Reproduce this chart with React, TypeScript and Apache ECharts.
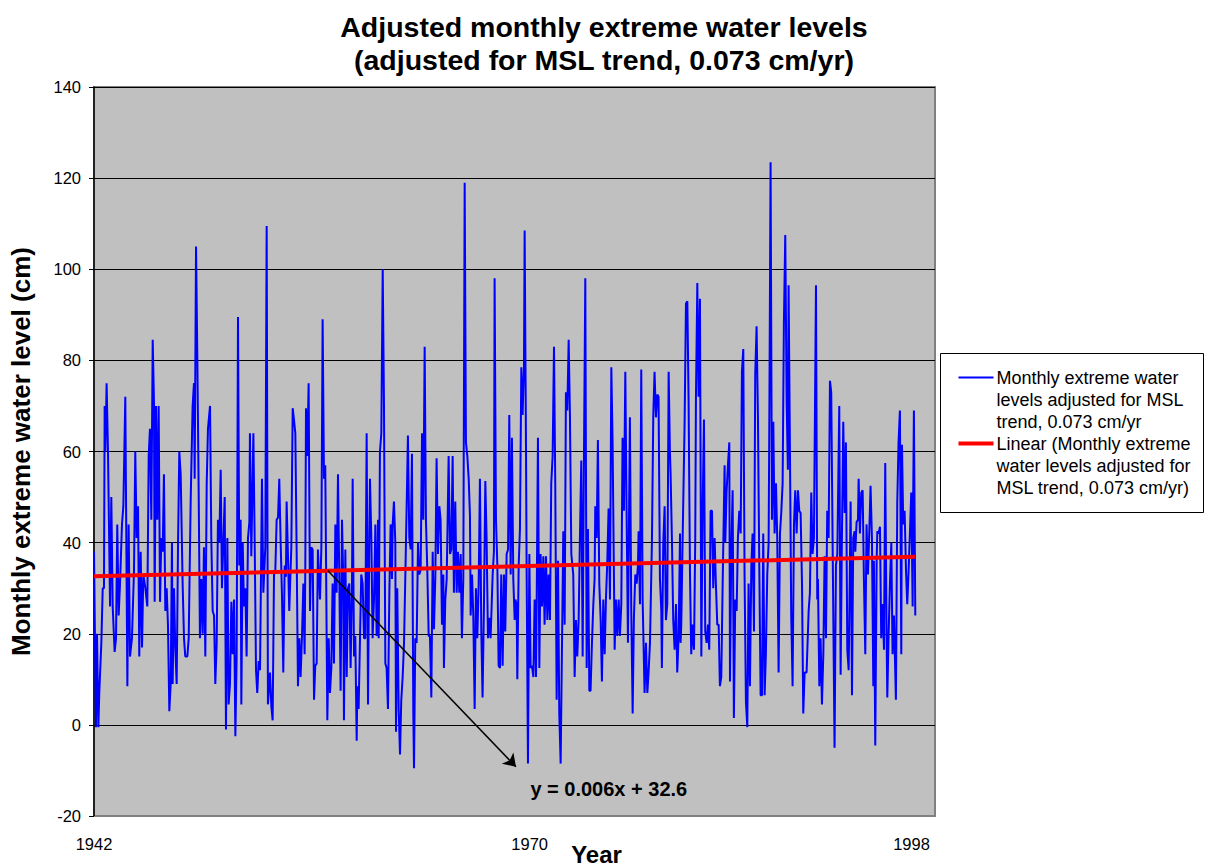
import React, { useEffect, useRef } from 'react';
import * as echarts from 'echarts';

// ---- Chart text ----
const titleText = 'Adjusted monthly extreme water levels\n(adjusted for MSL trend, 0.073 cm/yr)';
const levelSeriesName = 'Monthly extreme water levels adjusted for MSL trend, 0.073 cm/yr';
const trendSeriesName = 'Linear (Monthly extreme water levels adjusted for MSL trend, 0.073 cm/yr)';
const levelLegendText = 'Monthly extreme water\nlevels adjusted for MSL\ntrend, 0.073 cm/yr';
const trendLegendText = 'Linear (Monthly extreme\nwater levels adjusted for\nMSL trend, 0.073 cm/yr)';
const yAxisTitle = 'Monthly extreme water level (cm)';
const xAxisTitle = 'Year';

// ---- Axes ----
const levelMin = -20;
const levelMax = 140;
const levelStep = 20;
const recordMin = 1;
const recordMax = 734.5;
const yearTickRecords = [1, 381, 714];
const yearTickLabels = ['1942', '1970', '1998'];

// ---- Linear trend fitted on record number ----
const trendSlope = 0.006;
const trendIntercept = 32.6;
const trendFirstRecord = 1;
const trendLastRecord = 717;

// ---- Callout for the trend equation (record number, cm) ----
const calloutFromRecord = 205;
const calloutTip = [369, -9.2];
const equationAnchor = [450, -14];

// ---- Monthly extreme water levels: [record number, level in cm] ----
const levels1942to1950: [number, number][] = [
  [1, 38], [2.7, -0.5], [3.6, 20], [4.8, -0.5], [5.6, 7], [7.4, 18], [8.6, 30], [9.7, 30], [10.3, 70], [10.9, 60],
  [12, 75], [13.2, 60], [15, 26], [16.1, 50], [17.3, 26], [19, 16], [20.2, 19], [21.3, 44], [22.5, 24], [23.7, 31],
  [25.4, 44], [26.6, 48], [28.3, 72], [28.9, 72], [30.1, 8.5], [31.2, 44], [32.4, 15], [34.1, 19], [35.9, 34], [37, 60],
  [38.2, 41], [39.4, 48], [40.5, 15], [41.7, 38], [42.9, 17], [44, 33], [45.8, 30], [47.5, 26], [48.7, 59], [49.8, 65],
  [51, 45], [52.2, 84.5], [53.3, 71], [53.9, 27], [55.1, 70], [56.2, 45], [57.4, 70], [58.6, 27], [59.7, 41], [60.9, 38],
  [62, 55], [63.2, 25], [64.4, 30], [65.5, 22], [66.7, 3], [67.9, 9], [69, 40], [69.6, 9], [70.8, 30], [71.9, 17],
  [73.1, 9], [74.3, 40], [75.4, 60], [76.6, 55], [78.3, 31], [79.5, 19], [80.6, 15], [82.4, 15], [83.6, 19], [85.3, 49],
  [87, 70], [88.2, 75], [88.8, 54], [90, 105], [91.1, 81], [92.3, 51], [93.4, 19], [94.6, 32], [95.8, 20], [96.9, 39],
  [98.1, 15], [99.3, 53],
];

const levels1950to1958: [number, number][] = [
  [100.4, 65], [102.2, 70], [103.3, 41], [104.5, 25], [105.7, 24], [106.8, 9], [108, 18], [109.1, 45], [110.3, 40], [111.5, 56],
  [112.6, 30], [113.8, 40], [115, 50], [116.1, -1], [117.3, 41], [118.4, 4.5], [119.6, 9], [120.8, 27], [121.9, 15.5], [123.1, 27.5],
  [124.3, -2.5], [125.4, 15], [126.6, 89.5], [127.7, 35], [128.9, 45], [129.5, 4.5], [130.7, 40], [131.8, 26], [133, 30], [134.1, 15],
  [135.3, 41], [136.5, 44.5], [137, 64], [138.2, 37], [140, 64], [141.1, 41], [142.3, 12], [143.4, 7], [144.6, 14], [145.8, 12],
  [147.5, 54], [148.7, 29], [150.4, 39], [151.6, 109.5], [152.7, 4.5], [154.5, 11.5], [155.7, 4], [156.8, 1], [158, 33], [159.1, 33.5],
  [160.3, 45], [161.5, 45.5], [162.6, 54], [163.8, 40], [164.9, 29], [166.1, 11.5], [167.3, 35], [168.4, 32.5], [169, 49], [170.2, 37],
  [171.3, 25], [173.1, 39], [174.3, 69.5], [175.4, 67], [176.6, 64], [177.7, 39], [178.9, 8.5], [180.1, 19], [181.2, 10.5], [182.4, 19.5],
  [183.6, 31], [184.7, 15.5], [185.3, 35], [185.9, 69.5], [187, 59], [188.2, 75], [189.4, 25], [190.5, 39], [191.7, 38.5], [192.9, 5.5],
  [194, 13], [195.2, 13.5], [196.3, 38.5], [198.1, 27.5], [199.3, 39], [200.4, 89], [201.6, 54], [202.7, 57],
];

const levels1958to1966: [number, number][] = [
  [204.5, 1], [205.7, 19], [206.8, 7], [208, 12.5], [209.1, 31], [210.3, 13.5], [211.5, 44], [212.6, 29], [213.8, 55], [215, 31],
  [216.1, 7.5], [217.3, 45], [218.4, 32], [219, 1], [220.2, 38.5], [221.4, 10.5], [222.5, 30], [223.7, 31], [224.8, 12.5], [226, 30],
  [226.6, 54], [227.8, 15], [228.9, 19.5], [230.1, -3.5], [230.7, 8.5], [231.8, 3.5], [233, 19], [234.1, 33], [235.3, 31], [236.5, 19],
  [237.6, 19], [238.8, 64], [240, 4.5], [241.1, 41], [241.7, 54], [242.9, 41], [244, 19], [245.2, 27.5], [246.4, 44], [247.5, 19.5],
  [248.7, 45], [249.3, 19], [250.4, 60], [251.6, 64], [252.8, 100], [253.9, 71], [255.1, 13.5], [256.2, 12.5], [257.4, 3.5], [258.6, 29],
  [259.7, 44], [260.9, 32], [261.5, 44], [262.6, 49], [263.8, 40], [264.4, -1.5], [265.5, 30], [266.7, 3.5], [267.9, -6.5], [269, 5.5],
  [270.2, 10.5], [271.4, 18], [273.1, 40], [274.8, 63.5], [276, 41], [277.2, 38.5], [278.3, 59.5], [279.5, 2.5], [280.1, -9.5], [281.2, 19],
  [282.4, 18], [283.6, 40], [284.7, 33], [285.9, 34], [287.1, 64], [288.2, 45], [289.4, 83], [290.5, 45], [291.7, 34], [292.9, 19.5],
  [294, 19.5], [295.2, 6], [296.4, 38], [297.5, 21], [298.7, 32.5], [299.8, 58.5], [301, 37.5], [302.2, 48], [303.3, 45], [304.5, 22],
  [305.7, 33],
];

const levels1966to1974: [number, number][] = [
  [306.2, 12.5], [307.4, 27.5], [308.6, 32], [310.3, 59], [311.5, 37.5], [312.6, 38.5], [313.8, 59], [314.9, 29], [316.1, 49], [317.3, 29],
  [318.4, 38], [319.6, 29], [320.8, 37.5], [321.9, 19], [323.1, 32], [324.3, 119], [325.4, 62], [326.6, 59], [327.8, 54], [328.9, 46],
  [329.5, 24], [330.7, 33], [331.8, 24], [333, 3.5], [334.1, 30], [335.3, 19], [336.5, 31], [337.6, 54], [338.8, 20.5], [339.9, 6],
  [341.1, 26], [342.3, 53.5], [343.4, 41], [344.6, 19], [345.8, 23.5], [346.9, 19], [348.7, 33], [349.8, 38], [350.4, 98], [351.6, 45],
  [352.8, 35], [353.9, 13], [355.1, 12.5], [356.2, 33], [357.4, 13], [358.6, 33], [359.7, 20.5], [360.9, 37.5], [362.1, 38.5], [363.2, 68],
  [364.4, 33], [365.5, 63], [366.7, 32], [367.9, 23], [368.5, 27.5], [369.6, 26.5], [370.2, 10], [371.4, 35], [372.5, 43], [373.7, 78.5],
  [374.8, 68], [376, 78.5], [376.6, 108.5], [377.8, 60], [378.3, 35], [379.5, -8.5], [380.7, 37.5], [381.8, 12.5], [383, 13], [384.2, 10.5],
  [385.3, 27.5], [386.5, 10.5], [387.1, 27.5], [388.2, 63], [389.4, 12.5], [390.5, 37.5], [391.7, 26], [392.9, 37], [394, 22], [395.2, 37],
  [396.4, 23], [397.5, 33], [398.7, 23], [399.8, 53], [401, 59], [402.2, 83], [403.3, 53], [404.5, 5.5], [405.7, 36], [406.8, 2.5],
  [408, -8.5],
];

const levels1974to1982: [number, number][] = [
  [410.3, 42.5], [411.5, 22], [412.6, 73], [413.8, 69], [415, 84.5], [416.1, 68], [417.3, 37.5], [419, 33], [420.2, 10.5], [421.4, 23],
  [422.5, 15], [423.7, 23], [424.8, 41], [426, 58], [427.2, 15], [428.3, 58], [429.5, 98], [430.7, 12.5], [431.8, 43], [433, 7.5],
  [434.1, 7.5], [435.3, 18], [436.5, 26.5], [437.6, 32], [438.2, 48], [439.4, 41], [440.5, 62.5], [441.7, 31], [442.9, 23], [444, 9.5],
  [445.2, 27.5], [446.4, 15.5], [447.5, 27.5], [448.7, 36], [449.8, 47.5], [451, 27.5], [452.2, 78.5], [453.3, 62], [454.5, 32], [455.1, 16.5],
  [456.2, 27.5], [457.4, 19.5], [458.6, 27.5], [459.7, 19.5], [460.9, 26.5], [462, 63], [463.2, 47], [464.4, 77.5], [465.5, 47], [466.7, 18],
  [468.4, 67.5], [469.6, 25], [470.8, 2.5], [471.9, 23.5], [473.1, 33], [474.3, 31], [475.4, 35], [476, 42.5], [477.2, 26.5], [478.3, 78],
  [479.5, 27.5], [481.2, 7], [482.4, 18], [483.6, 7], [484.7, 11.5], [485.9, 18], [487.6, 40], [488.8, 68], [489.9, 77.5], [491.1, 67.5],
  [492.3, 72.5], [493.4, 72], [494.6, 32], [495.8, 25], [496.3, 12.5], [497.5, 40], [498.7, 48], [499.8, 23], [501, 26.5], [502.2, 77.5],
  [503.3, 60], [503.9, 55], [505.1, 40], [506.2, 23], [507.4, 16.5], [508.6, 26.5], [509.7, 11.5], [510.9, 19.5],
];

const levels1982to1990: [number, number][] = [
  [512.1, 42], [512.6, 18], [513.2, 22], [514.4, 41], [516.1, 66], [517.3, 92.5], [518.5, 93], [519.6, 71], [520.8, 33], [521.9, 15.5],
  [523.1, 22], [524.3, 16.5], [525.4, 41], [526, 72], [527.2, 97], [528.3, 72], [529.5, 93.5], [530.7, 15], [531.8, 47], [533, 67],
  [534.1, 20.5], [535.3, 18], [536.5, 22], [537.6, 16.5], [538.8, 47], [540, 47], [541.1, 30], [542.3, 41], [543.4, 31], [544.6, 22],
  [545.8, 22], [546.9, 8.5], [548.1, 10.5], [549.3, 31], [551, 57], [551.6, 40], [552.7, 51], [553.9, 57], [555.1, 62], [555.7, 9.5],
  [556.8, 37.5], [558, 51.5], [559.1, 1.5], [560.3, 27.5], [561.5, 25], [562.6, 41], [563.8, 47], [565, 42], [566.1, 77.5], [567.3, 82.5],
  [568.4, 33], [569.6, 5], [570.8, -0.5], [571.9, 31], [573.1, 8.5], [574.3, 35], [575.4, 42], [576.6, 20.5], [577.7, 77], [578.9, 87.5],
  [580.1, 67], [581.2, 36], [582.4, 6.5], [583.6, 6.5], [584.7, 42], [585.9, 6.5], [587, 15.5], [588.2, 33], [589.4, 40], [590, 67],
  [591.1, 123.5], [592.3, 45], [593.5, 66.5], [594.6, 42], [595.8, 53], [596.9, 41], [598.1, 11.5], [599.3, 42], [600.4, 46.5], [601.6, 53],
  [602.7, 88], [603.9, 107.5], [605.1, 71], [606.2, 56], [606.8, 96.5], [608, 60], [609.1, 24], [610.3, 8.5], [611.5, 44], [612.6, 51.5],
  [613.8, 42],
];

const levels1990to1998: [number, number][] = [
  [615, 51.5], [616.1, 47], [617.3, 46.5], [618.5, 31], [619.6, 2.5], [620.8, 11.5], [622.5, 11.5], [624.3, 25], [625.4, 29], [626.6, 51],
  [627.7, 37.5], [628.9, 41], [630.7, 96.5], [631.8, 27.5], [632.4, 32], [633.6, 8.5], [634.7, 19], [635.9, 4.5], [637.1, 15.5], [638.2, 37],
  [639.4, 19], [640.5, 47], [641.7, 41], [642.9, 75.5], [644, 73], [645.2, 40], [646.9, -5], [648.1, 35], [649.3, 37.5], [651, 70],
  [652.2, 11], [653.3, 41], [654.5, 66.5], [655.7, 46.5], [656.8, 62], [658, 16.5], [659.2, 12], [660.9, 49], [662.1, 6.5], [663.2, 41],
  [664.4, 42.5], [665, 38], [666.1, 44.5], [667.3, 45], [667.9, 54], [669, 42], [670.2, 51], [671.4, 51.5], [672.5, 32], [673.7, 15.5],
  [674.8, 44], [676, 33], [677.2, 42.5], [678.3, 52.5], [679.5, 41], [680.7, 8.5], [681.2, 36], [682.4, -4.5], [683.6, 36], [684.2, 42.5],
  [685.3, 42], [686.5, 43.5], [687.6, 19], [688.8, 26.5], [690, 16.5], [691.1, 57.5], [692.3, 19], [692.9, 6], [694, 19.5], [695.2, 31],
  [696.4, 40], [697.5, 15.5], [698.7, 24], [700.4, 5.5], [701.6, 49], [702.7, 62], [703.9, 69], [705.1, 15.5], [705.7, 61.5], [706.8, 44],
  [708, 47], [709.2, 34], [710.3, 26.5], [711.5, 34], [712.6, 42], [713.8, 51], [715, 26], [715.5, 50.5], [716.1, 69], [717.3, 24],
];

const FONT = "'Liberation Sans', Arial, sans-serif";

const trendAt = (record: number) => trendIntercept + trendSlope * record;

export default function App() {
  const ref = useRef<HTMLDivElement>(null);

  useEffect(() => {
    if (!ref.current) return;
    const chart = echarts.init(ref.current, undefined, { renderer: 'svg' });

    const levels = [
      ...levels1942to1950,
      ...levels1950to1958,
      ...levels1958to1966,
      ...levels1966to1974,
      ...levels1974to1982,
      ...levels1982to1990,
      ...levels1990to1998,
    ];
    const trend = [
      [trendFirstRecord, trendAt(trendFirstRecord)],
      [trendLastRecord, trendAt(trendLastRecord)],
    ];
    const equation = `y = ${trendSlope}x + ${trendIntercept}`;

    chart.setOption({
      animation: false,
      backgroundColor: '#ffffff',
      textStyle: { fontFamily: FONT },
      title: {
        text: titleText,
        left: 'center',
        top: 5,
        textStyle: {
          fontFamily: FONT,
          fontSize: 28.5,
          fontWeight: 'bold',
          color: '#000',
          lineHeight: 33,
        },
      },
      grid: {
        left: 94,
        right: 273,
        top: 87,
        bottom: 52,
        outerBoundsMode: 'none',
        containLabel: false,
        show: true,
        backgroundColor: '#C0C0C0',
        borderColor: '#808080',
        borderWidth: 2,
      },
      xAxis: {
        type: 'value',
        min: recordMin,
        max: recordMax,
        name: xAxisTitle,
        nameLocation: 'middle',
        nameGap: 26,
        nameMoveOverlap: false,
        nameTextStyle: {
          fontFamily: FONT,
          fontSize: 24,
          fontWeight: 'bold',
          color: '#000',
          padding: [0, 0, 0, 164],
        },
        axisLine: { show: true, onZero: false, lineStyle: { color: '#808080', width: 1 } },
        axisTick: { show: false },
        splitLine: { show: false },
        axisLabel: {
          customValues: yearTickRecords,
          formatter: (v: number) => {
            const i = yearTickRecords.indexOf(v);
            return i >= 0 ? yearTickLabels[i] : '';
          },
          margin: 19,
          fontFamily: FONT,
          fontSize: 16.5,
          color: '#000',
        },
      },
      yAxis: {
        type: 'value',
        min: levelMin,
        max: levelMax,
        interval: levelStep,
        name: yAxisTitle,
        nameLocation: 'middle',
        nameGap: 60,
        nameMoveOverlap: false,
        nameTextStyle: {
          fontFamily: FONT,
          fontSize: 26,
          fontWeight: 'bold',
          color: '#000',
        },
        axisLine: { show: true, onZero: false, lineStyle: { color: '#000', width: 1.5 } },
        axisTick: { show: true, length: 5, lineStyle: { color: '#000' } },
        splitLine: { show: true, lineStyle: { color: '#000', width: 1 } },
        axisLabel: {
          margin: 13,
          fontFamily: FONT,
          fontSize: 16.5,
          color: '#000',
        },
      },
      series: [
        {
          name: levelSeriesName,
          type: 'line',
          data: levels,
          showSymbol: false,
          symbol: 'none',
          lineStyle: { color: '#0000FF', width: 2 },
          z: 2,
        },
        {
          name: trendSeriesName,
          type: 'line',
          data: trend,
          showSymbol: false,
          symbol: 'none',
          lineStyle: { color: '#FF0000', width: 4 },
          z: 3,
          markLine: {
            silent: true,
            symbol: ['none', 'arrow'],
            symbolSize: 12,
            lineStyle: { color: '#000', width: 1.5, type: 'solid' },
            label: { show: false },
            data: [
              [
                { coord: [calloutFromRecord, trendAt(calloutFromRecord)] },
                { coord: calloutTip },
              ],
            ],
          },
          markPoint: {
            silent: true,
            symbol: 'rect',
            symbolSize: 1,
            itemStyle: { color: 'rgba(0,0,0,0)' },
            label: {
              show: true,
              position: 'inside',
              formatter: equation,
              fontFamily: FONT,
              fontSize: 20,
              fontWeight: 'bold',
              color: '#000',
            },
            data: [{ coord: equationAnchor }],
          },
        },
      ],
      graphic: [
        {
          type: 'group',
          left: 940,
          top: 353,
          children: [
            {
              type: 'rect',
              shape: { x: 0, y: 0, width: 263, height: 159 },
              style: { fill: '#ffffff', stroke: '#000', lineWidth: 1 },
            },
            {
              type: 'line',
              shape: { x1: 18, y1: 24, x2: 53, y2: 24 },
              style: { stroke: '#0000FF', lineWidth: 2 },
            },
            {
              type: 'text',
              x: 56,
              y: 13,
              style: {
                text: levelLegendText,
                fontFamily: FONT,
                fontSize: 18,
                lineHeight: 22,
                fill: '#000',
                verticalAlign: 'top',
              },
            },
            {
              type: 'line',
              shape: { x1: 18, y1: 90, x2: 53, y2: 90 },
              style: { stroke: '#FF0000', lineWidth: 4 },
            },
            {
              type: 'text',
              x: 56,
              y: 79,
              style: {
                text: trendLegendText,
                fontFamily: FONT,
                fontSize: 18,
                lineHeight: 22,
                fill: '#000',
                verticalAlign: 'top',
              },
            },
          ],
        },
      ],
    });

    return () => chart.dispose();
  }, []);

  return (
    <div
      ref={ref}
      style={{ position: 'absolute', left: 0, top: 0, width: 1208, height: 868, background: '#fff' }}
    />
  );
}
